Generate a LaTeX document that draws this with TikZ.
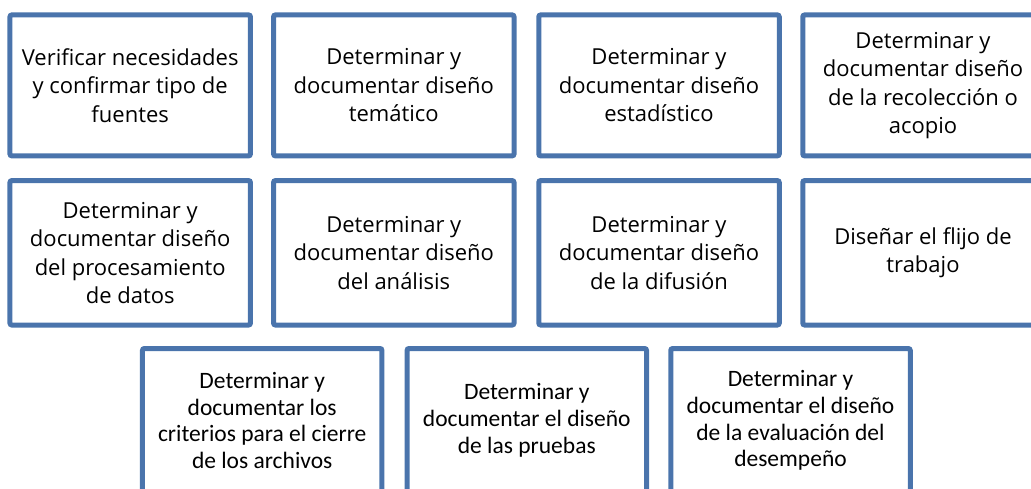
\documentclass[tikz,border=0pt]{standalone}
\usepackage{fontspec}
\setmainfont{Open Sans}
\newfontfamily\calibrifont{Carlito}
\usepackage{tikz}
\usetikzlibrary{shapes,arrows}
\definecolor{boxblue}{HTML}{4A74AC}
\tikzstyle{block} = [rectangle, draw=boxblue, line width=5pt, rounded corners=2pt,
    align=center, inner sep=0pt, minimum width=240.5pt, minimum height=141pt,
    font=\fontsize{22}{28.5}\selectfont]
\tikzstyle{lowblock} = [block, minimum width=239.5pt, minimum height=144pt,
    font=\calibrifont\fontsize{23.5}{26.7}\selectfont]

\begin{document}
\begin{tikzpicture}[x=1pt, y=-1pt]
\clip (0,0) rectangle (1031,489);
% first row
\node [block] at (130.2,85.4) (verificar) {Verificar necesidades\\y confirmar tipo de\\fuentes};
\node [block] at (393.8,85.4) (tematico) {Determinar y\\documentar diseño\\temático};
\node [block] at (659,85.4) (estadistico) {Determinar y\\documentar diseño\\estadístico};
\node [block] at (923,85.4) (recoleccion) {Determinar y\\documentar diseño\\de la recolección o\\acopio};

% second row
\node [block, minimum height=144.5pt] at (130.2,252.8) (procesamiento) {Determinar y\\documentar diseño\\del procesamiento\\de datos};
\node [block, minimum height=144.5pt] at (393.8,252.8) (analisis) {Determinar y\\documentar diseño\\del análisis};
\node [block, minimum height=144.5pt] at (659,252.8) (difusion) {Determinar y\\documentar diseño\\de la difusión};
\node [block, minimum height=144.5pt] at (923,252.8) (flujo) {Diseñar el flijo de\\trabajo};

% third row
\node [lowblock] at (262.2,420.5) (cierre) {Determinar y\\documentar los\\criterios para el cierre\\de los archivos};
\node [lowblock] at (526.8,420.5) (pruebas) {Determinar y\\documentar el diseño\\de las pruebas};
\node [lowblock] at (790.5,420.5) (desempeno) {Determinar y\\documentar el diseño\\de la evaluación del\\desempeño};
\end{tikzpicture}
\end{document}
